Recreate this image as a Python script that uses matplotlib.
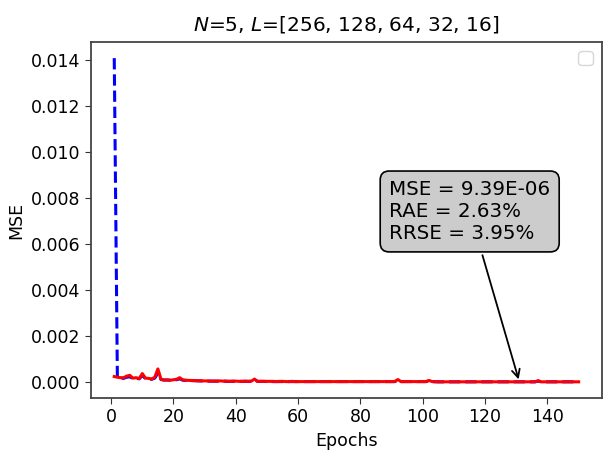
import numpy as np
import matplotlib.pyplot as plt

# Curvas de error por época (valores en unidades de 1e-5)
epocas = np.arange(1, 151)

mse_train = np.array([
    25, 22, 20, 20, 27, 30, 18, 20, 16, 38,
    18, 17, 14, 22, 58, 13, 9, 10, 9, 11,
    13, 20, 10, 9, 8, 8, 7, 7, 6, 6,
    6, 5, 5, 5, 6, 5, 5, 4, 5, 5,
    4, 4, 5, 4, 5, 14, 4, 4, 4, 4,
    4, 4, 3, 4, 4, 3, 3, 4, 3, 3,
    3, 3, 3, 3, 3, 3, 3, 3, 3, 3,
    3, 3, 3, 3, 3, 3, 3, 3, 3, 3,
    3, 3, 3, 3, 3, 3, 3, 3, 3, 3,
    3, 12, 3, 3, 3, 3, 3, 3, 3, 3,
    3, 8, 3, 3, 2, 2, 2, 2, 2, 2,
    2, 2, 2, 2, 2, 2, 2, 2, 2, 2,
    2, 2, 2, 2, 2, 2, 2, 2, 2, 2,
    2, 2, 2, 2, 2, 2, 7, 2, 2, 2,
    2, 2, 2, 2, 2, 2, 2, 2, 2, 2,
]) * 1e-5

mse_val = np.array([
    1410, 20, 18, 17, 22, 24, 16, 18, 15, 30,
    16, 15, 13, 18, 40, 12, 10, 10, 9, 10,
    11, 15, 9, 8, 8, 7, 7, 6, 6, 6,
    5, 5, 5, 5, 5, 5, 4, 4, 4, 4,
    4, 4, 4, 4, 4, 10, 4, 4, 4, 3,
    3, 3, 3, 3, 3, 3, 3, 3, 3, 3,
    3, 3, 3, 3, 3, 3, 3, 3, 3, 3,
    3, 3, 3, 3, 3, 3, 3, 3, 3, 3,
    3, 3, 3, 3, 3, 3, 3, 3, 3, 3,
    3, 9, 3, 3, 3, 3, 3, 3, 3, 3,
    3, 6, 3, 2, 2, 2, 2, 2, 2, 2,
    2, 2, 2, 2, 2, 2, 2, 2, 2, 2,
    2, 2, 2, 2, 2, 2, 2, 2, 2, 2,
    2, 2, 2, 2, 2, 2, 5, 2, 2, 2,
    2, 2, 2, 2, 2, 2, 2, 2, 2, 2,
]) * 1e-5

titulo = "$N$=5, $L$=[256, 128, 64, 32, 16]"
texto_metricas = "MSE = 9.39E-06\nRAE = 2.63%\nRRSE = 3.95%"

#%% Gráfico
fig = plt.figure(figsize=(6.11, 4.51), dpi=100)
ax = fig.add_axes([0.149, 0.1175, 0.836, 0.7895])

ax.plot(epocas, mse_val, color='blue', linestyle='--', linewidth=2.2)
ax.plot(epocas, mse_train, color='red', linestyle='-', linewidth=2.2)

ax.set_title(titulo, fontsize=14.5, pad=8)
ax.set_xlabel("Epochs", fontsize=12.5)
ax.set_ylabel("MSE", fontsize=12.5)
ax.set_xticks(np.arange(0, 141, 20))
ax.tick_params(labelsize=12.5, length=4, color='#333333')
for lado in ax.spines.values():
    lado.set_linewidth(1.3)
    lado.set_color('#444444')
ax.legend(handles=[], loc='upper right', fontsize=13)

ax.annotate(texto_metricas, xy=(131, 0.00001), xytext=(89.2, 0.0088),
            fontsize=14.3, ha='left', va='top',
            bbox=dict(boxstyle='round,pad=0.45', fc='0.8', ec='black', lw=1.2),
            arrowprops=dict(arrowstyle='->', color='black', linewidth=1.3))

fig.savefig("out.png", dpi=100)
